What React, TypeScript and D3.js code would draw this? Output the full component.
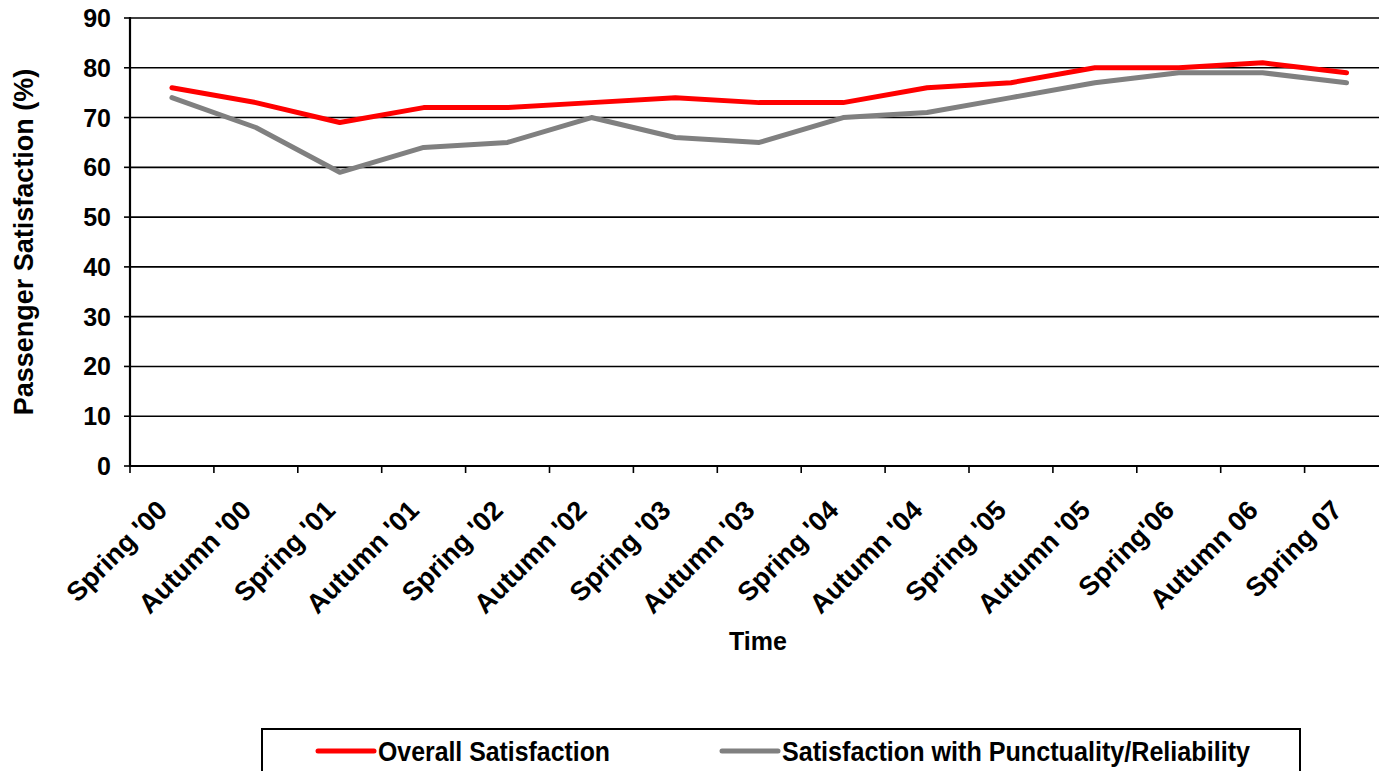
import React from "react";
import * as d3 from "d3";

const categories = [
  "Spring '00", "Autumn '00", "Spring '01", "Autumn '01", "Spring '02",
  "Autumn '02", "Spring '03", "Autumn '03", "Spring '04", "Autumn '04",
  "Spring '05", "Autumn '05", "Spring'06", "Autumn 06", "Spring 07",
];
const overall = [76, 73, 69, 72, 72, 73, 74, 73, 73, 76, 77, 80, 80, 81, 79];
const punctuality = [74, 68, 59, 64, 65, 70, 66, 65, 70, 71, 74, 77, 79, 79, 77];
const yTicks = [0, 10, 20, 30, 40, 50, 60, 70, 80, 90];

const seriesList = [
  { name: "Overall Satisfaction", values: overall, color: "#ff0000" },
  { name: "Satisfaction with Punctuality/Reliability", values: punctuality, color: "#808080" },
];

const W = 1379;
const H = 771;
const left = 130;
const top = 18;
const bottom = 466;
const band = 83.9;
const FONT = "'Liberation Sans', Arial, sans-serif";

export default function App() {
  const x = d3.scaleBand<string>().domain(categories).range([left, left + band * categories.length]).padding(0);
  const y = d3.scaleLinear().domain([0, 90]).range([bottom, top]);
  const cx = (c: string) => (x(c) as number) + x.bandwidth() / 2;
  const line = d3
    .line<number>()
    .x((_, i) => cx(categories[i]))
    .y((v) => y(v));

  return (
    <svg width={W} height={H} style={{ position: "absolute", left: 0, top: 0, background: "#fff" }} fontFamily={FONT}>
      <rect x={0} y={0} width={W} height={H} fill="#fff" />
      {/* gridlines */}
      {yTicks.map((t) => (
        <g key={t}>
          {t > 0 && <line x1={left} x2={W} y1={y(t)} y2={y(t)} stroke="#000" strokeWidth={1.6} />}
          <line x1={left - 6} x2={left} y1={y(t)} y2={y(t)} stroke="#000" strokeWidth={1.6} />
          <text x={111} y={y(t)} dy="0.36em" textAnchor="end" fontWeight="bold" fontSize={25} fill="#000">
            {t}
          </text>
        </g>
      ))}
      {/* axes */}
      <line x1={left} x2={left} y1={top - 1} y2={bottom + 1} stroke="#000" strokeWidth={2.2} />
      <line x1={left} x2={W} y1={bottom} y2={bottom} stroke="#000" strokeWidth={2.2} />
      {categories.map((c, i) => (
        <line key={"t" + i} x1={x(c) as number} x2={x(c) as number} y1={bottom} y2={bottom + 7} stroke="#000" strokeWidth={1.6} />
      ))}
      {categories.map((c, i) => (
        <text
          key={"l" + i}
          transform={`translate(${cx(c) - 3},${512}) rotate(-45)`}
          textAnchor="end"
          fontWeight="bold"
          fontSize={27}
          fill="#000"
        >
          {c}
        </text>
      ))}
      {/* series */}
      {seriesList.map((s) => (
        <path key={s.name} d={line(s.values) as string} fill="none" stroke={s.color} strokeWidth={5} strokeLinejoin="round" strokeLinecap="round" />
      ))}
      {/* axis titles */}
      <text x={758} y={650} textAnchor="middle" fontWeight="bold" fontSize={25} fill="#000">
        Time
      </text>
      <text transform={`translate(33,242) rotate(-90)`} textAnchor="middle" fontWeight="bold" fontSize={27} fill="#000">
        Passenger Satisfaction (%)
      </text>
      {/* legend */}
      <rect x={262} y={729} width={1038} height={60} fill="#fff" stroke="#000" strokeWidth={2} />
      {seriesList.map((s, i) => {
        const lx = i === 0 ? 318 : 722;
        const lens = [232, 468];
        return (
          <g key={"lg" + i}>
            <line x1={lx} x2={lx + 56} y1={751} y2={751} stroke={s.color} strokeWidth={5} strokeLinecap="round" />
            <text x={lx + 60} y={761} fontWeight="bold" fontSize={27} fill="#000" textLength={lens[i]} lengthAdjust="spacingAndGlyphs">
              {s.name}
            </text>
          </g>
        );
      })}
    </svg>
  );
}
